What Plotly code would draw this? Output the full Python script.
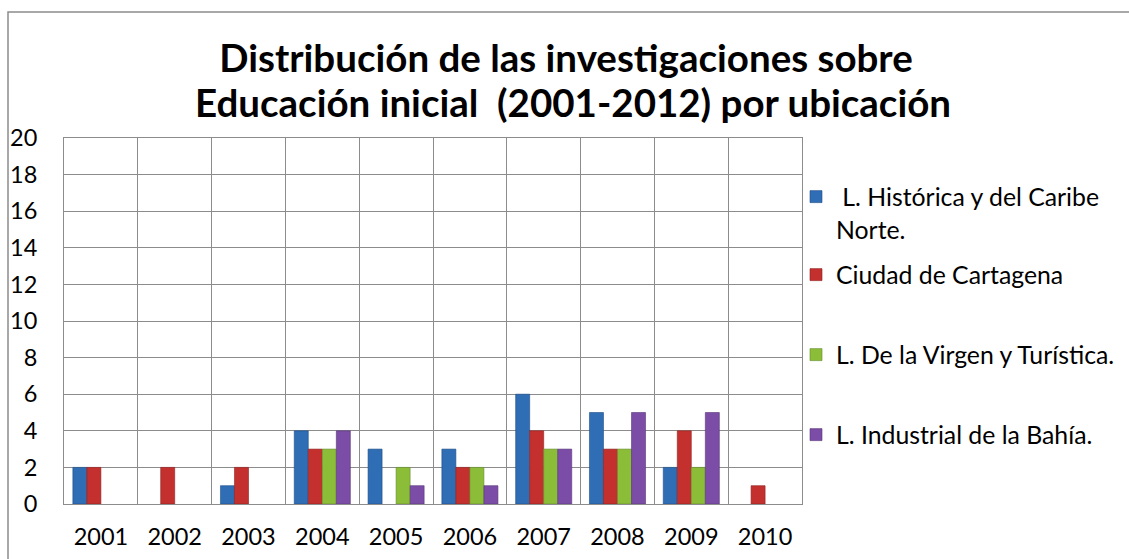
import plotly.graph_objects as go

years = ["2001", "2002", "2003", "2004", "2005", "2006", "2007", "2008", "2009", "2010"]
series_names = [" L. Histórica y del Caribe<br>Norte.", "Ciudad de Cartagena",
                "L. De la Virgen y Turística.", "L. Industrial de la Bahía."]
historica = [2, None, 1, 4, 3, 3, 6, 5, 2, None]
cartagena = [2, 2, 2, 3, None, 2, 4, 3, 4, 1]
virgen = [None, None, None, 3, 2, 2, 3, 3, 2, None]
industrial = [None, None, None, 4, 1, 1, 3, 5, 5, None]
y_ticks = [0, 2, 4, 6, 8, 10, 12, 14, 16, 18, 20]
title_line1 = "Distribución de las investigaciones sobre"
title_line2 = "Educación inicial  (2001-2012) por ubicación"

colors = ["#2F6DB5", "#C3302E", "#8CBD38", "#7B4DA6"]
edges = ["#1F4E86", "#8E2220", "#63892A", "#573679"]

W, H = 1129, 559
L, R, T, B = 64, 802, 138, 504
pw, ph = R - L, B - T


def px_x(p):
    return (p - L) / pw


def px_y(p):
    return (B - p) / ph


legend_ids = ["legend", "legend2", "legend3", "legend4"]
legend_centers = [213, 275, 355, 435]

fig = go.Figure()
for i, (name, vals) in enumerate(zip(series_names, [historica, cartagena, virgen, industrial])):
    fig.add_trace(go.Bar(
        x=years, y=vals, name=name, legend=legend_ids[i],
        marker=dict(color=colors[i], line=dict(color=edges[i], width=0.6)),
    ))

fig.add_shape(type="rect", xref="paper", yref="paper",
              x0=px_x(8), x1=px_x(W + 20), y0=px_y(H + 20), y1=px_y(12),
              line=dict(color="#8C8C8C", width=1.5), fillcolor="rgba(0,0,0,0)", layer="below")

legend_font = dict(family="Lato", size=24.8, color="#000000")
legends = {}
for i, lid in enumerate(legend_ids):
    legends[lid] = dict(
        x=px_x(796), xanchor="left", y=px_y(legend_centers[i]), yanchor="middle",
        font=legend_font, valign="top", itemwidth=30, bgcolor="rgba(0,0,0,0)",
    )

fig.update_layout(
    width=W, height=H,
    margin=dict(l=L, r=W - R, t=T, b=H - B, autoexpand=False),
    paper_bgcolor="white", plot_bgcolor="white",
    barmode="group", bargap=0.24, bargroupgap=0,
    font=dict(family="Lato", color="#000000"),
    title=dict(
        text="<b>" + title_line1 + "</b>",
        x=566 / W, xanchor="center", xref="container",
        y=1 - 59 / H, yanchor="middle", yref="container",
        font=dict(family="Lato", size=38.5, color="#000000"),
    ),
    showlegend=True,
    xaxis=dict(
        type="category", tickson="boundaries", showgrid=True, gridcolor="#8C8C8C", gridwidth=1,
        showline=True, linecolor="#8C8C8C", linewidth=1, mirror=True,
        ticks="", tickfont=dict(family="Lato", size=23.5, color="#000000"),
        ticklabelstandoff=12, fixedrange=True,
    ),
    yaxis=dict(
        range=[0, 20], tickvals=y_ticks, showgrid=True, gridcolor="#8C8C8C", gridwidth=1,
        showline=True, linecolor="#8C8C8C", linewidth=1, mirror=True, zeroline=False,
        ticks="", tickfont=dict(family="Lato", size=23.5, color="#000000"),
        ticklabelstandoff=21, fixedrange=True,
    ),
    **legends,
)

fig.add_annotation(
    text="<b>" + title_line2 + "</b>", showarrow=False,
    xref="paper", yref="paper", x=px_x(573), y=px_y(102),
    xanchor="center", yanchor="middle",
    font=dict(family="Lato", size=38.5, color="#000000"),
)

fig.write_html("out.html", config={"displayModeBar": False},
               post_script="document.body.style.margin='0';document.body.style.overflow='hidden';")
